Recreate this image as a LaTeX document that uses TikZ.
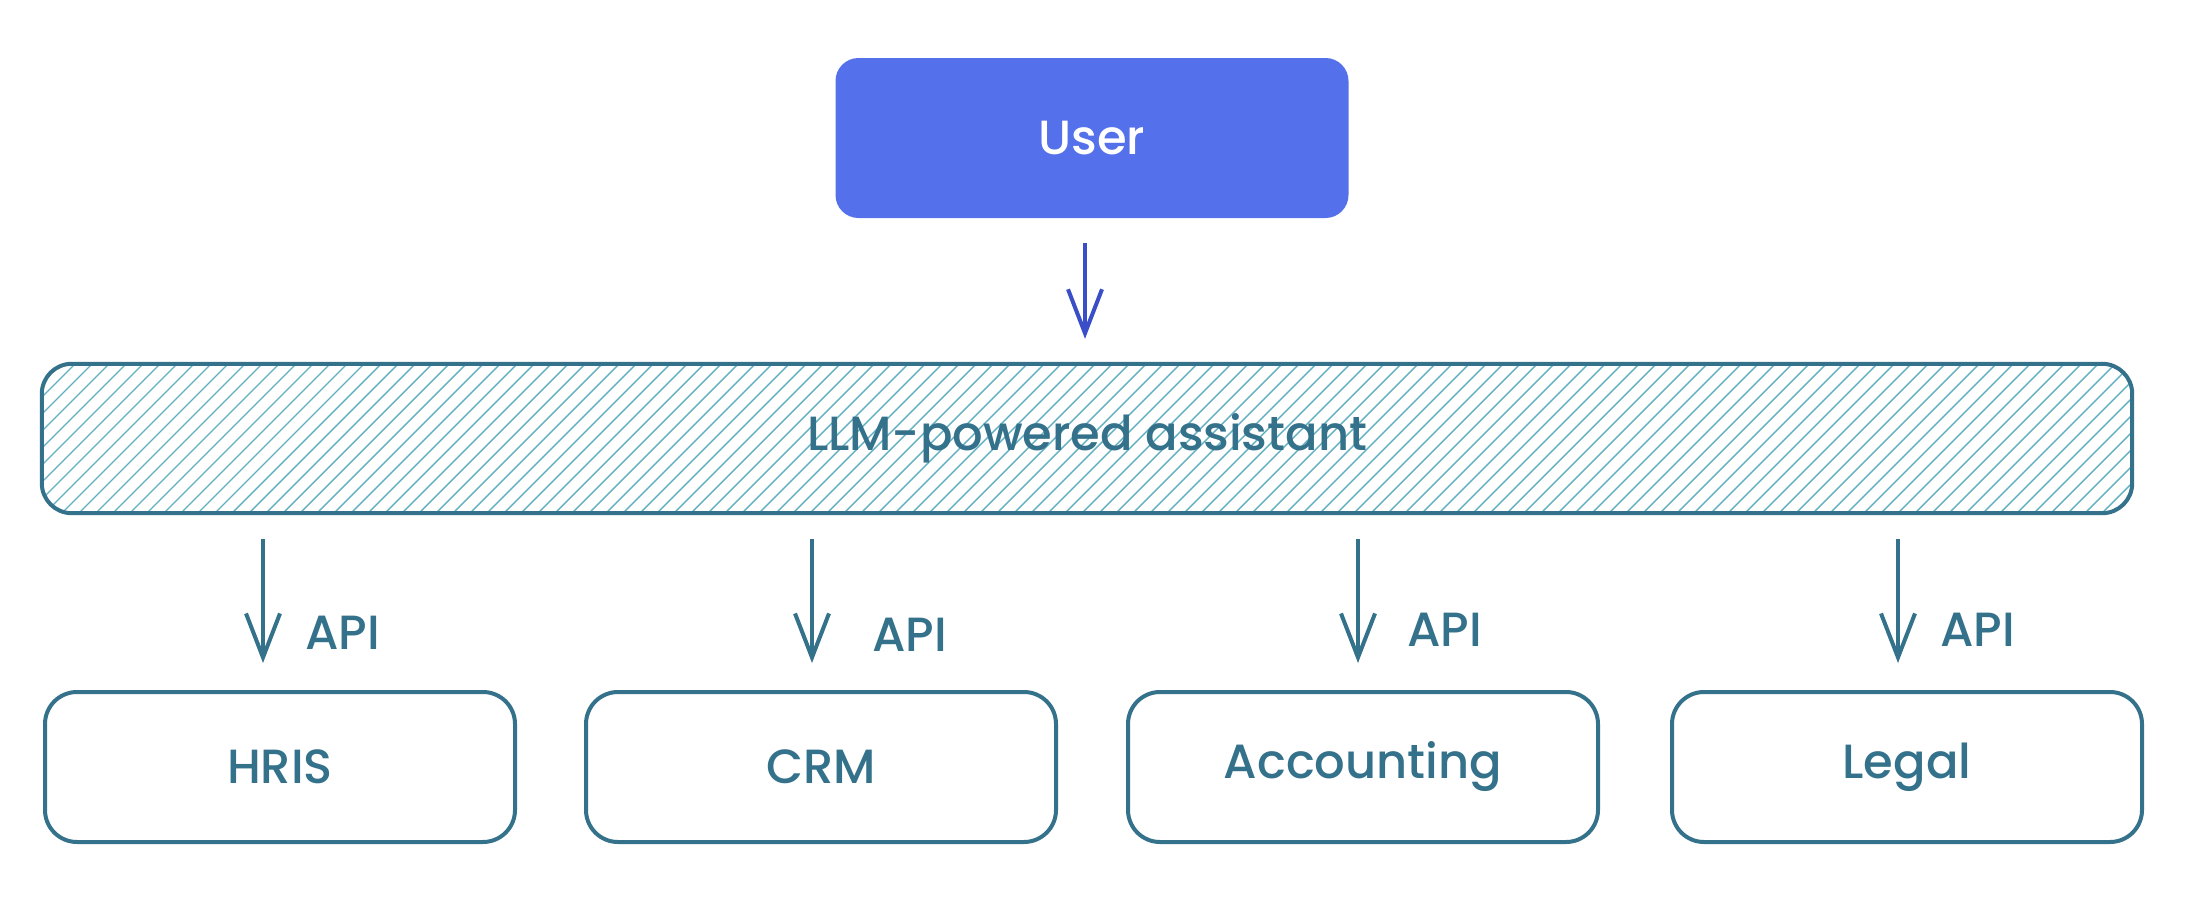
\documentclass[tikz,border=0pt]{standalone}
\usepackage{fontspec}
\setmainfont{Poppins}[BoldFont={Poppins Medium}]
\usetikzlibrary{arrows.meta,calc}
\definecolor{tealc}{HTML}{34718A}
\definecolor{hatchc}{HTML}{62AFC2}
\definecolor{userfill}{HTML}{5470EA}
\definecolor{userarrow}{HTML}{3A4FC7}
\tikzset{
  lbl/.style={font=\fontsize{48}{56}\selectfont\bfseries},
  sysbox/.style={draw=tealc, line width=4pt, rounded corners=32pt, minimum width=470pt, minimum height=150pt, text=tealc, lbl},
  tarr/.style={draw=tealc, line width=4pt, -{Straight Barb[length=44pt, width=34pt, line width=4pt]}},
  barr/.style={draw=userarrow, line width=4pt, -{Straight Barb[length=44pt, width=34pt, line width=4pt]}},
  apilbl/.style={text=tealc, lbl, anchor=west, inner sep=0pt}
}
\begin{document}
\begin{tikzpicture}[x=1pt,y=-1pt]
\useasboundingbox (0,0) rectangle (2196,908);
\fill[white] (0,0) rectangle (2196,908);
% User
\node[fill=userfill, draw=userfill, line width=2pt, rounded corners=22pt, minimum width=511pt, minimum height=158pt, text=white, lbl] (user) at (1092,138) {User};
% LLM box
\node[minimum width=2090pt, minimum height=149pt, inner sep=0pt] (llm) at (1087,438.5) {};
\begin{scope}
  \clip[rounded corners=30pt] (llm.north west) rectangle (llm.south east);
  \foreach \i in {-200,-183,...,2300} {
    \draw[hatchc, line width=1.4pt] (\i,520) -- ++(170,-170);
  }
\end{scope}
\draw[tealc, line width=4pt, rounded corners=30pt] (llm.north west) rectangle (llm.south east);
\node[text=tealc, lbl] (llmtext) at (llm.center) {LLM-powered assistant};
% System boxes
\node[sysbox] (hris) at (280,767) {HRIS};
\node[sysbox] (crm) at (821,767) {CRM};
\node[sysbox] (acc) at (1363,767) {Accounting};
\node[sysbox] (legal) at (1907,767) {Legal};
% User arrow
\draw[barr, shorten <=25pt, shorten >=25pt] ([xshift=-7pt]user.south) -- ([xshift=-7pt]user.south |- llm.north);
% API arrows
\draw[tarr, shorten <=26pt, shorten >=27pt] ([xshift=-17pt]hris.north |- llm.south) -- ([xshift=-17pt]hris.north);
\draw[tarr, shorten <=26pt, shorten >=27pt] ([xshift=-9pt]crm.north |- llm.south) -- ([xshift=-9pt]crm.north);
\draw[tarr, shorten <=26pt, shorten >=27pt] ([xshift=-5pt]acc.north |- llm.south) -- ([xshift=-5pt]acc.north);
\draw[tarr, shorten <=26pt, shorten >=27pt] ([xshift=-9pt]legal.north |- llm.south) -- ([xshift=-9pt]legal.north);
% API labels
\node[apilbl] (api1) at (305,633) {API};
\node[apilbl] (api2) at (872,635) {API};
\node[apilbl] (api3) at (1407,630) {API};
\node[apilbl] (api4) at (1940,630) {API};
\end{tikzpicture}
\end{document}
